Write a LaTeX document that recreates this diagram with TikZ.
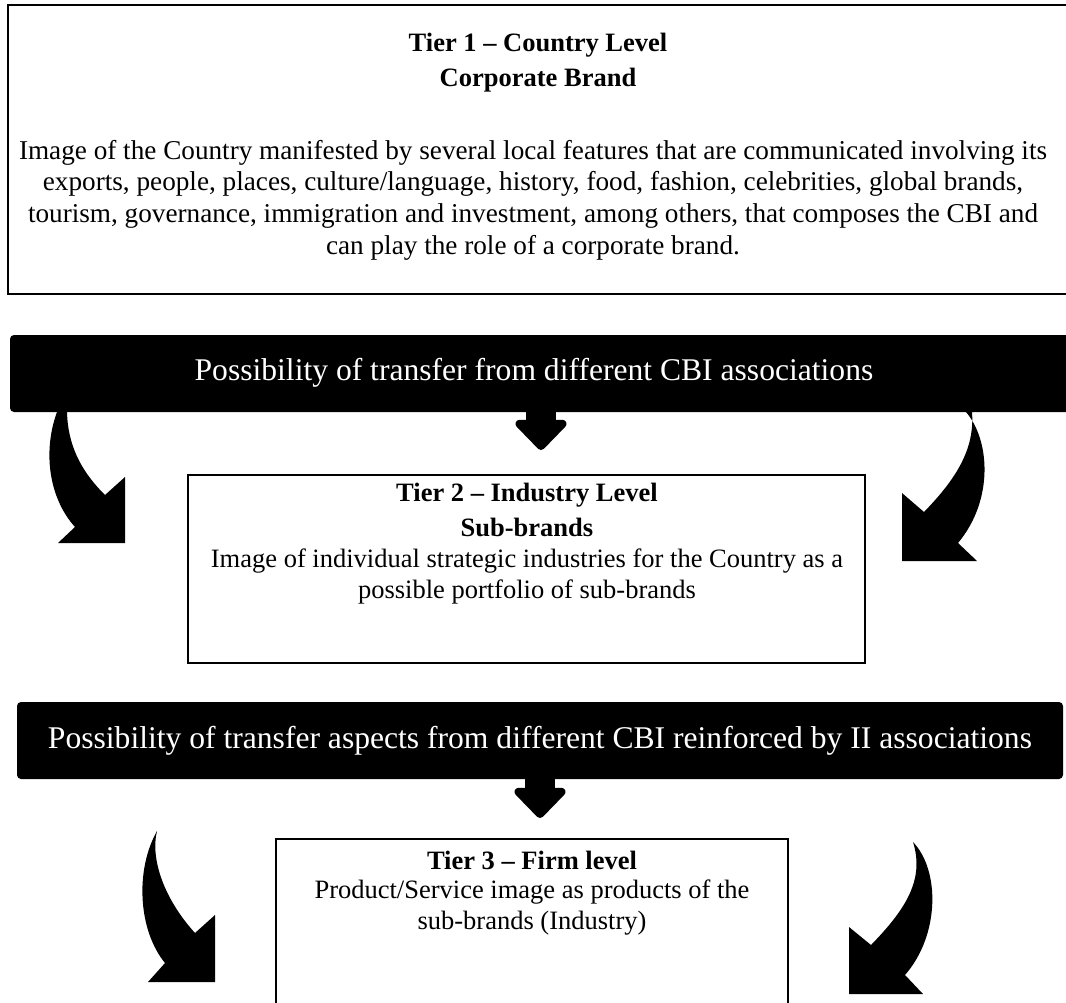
\documentclass[tikz,border=0pt]{standalone}
\usepackage{fontspec}
\setmainfont{Liberation Serif}
\usetikzlibrary{arrows.meta}
\begin{document}
\begin{tikzpicture}[x=1pt,y=-1pt,
  txt/.style={align=center, inner sep=0pt, font=\fontsize{26.5}{31}\selectfont},
  head/.style={inner sep=0pt, font=\fontsize{26.5}{30}\selectfont\bfseries},
  bantxt/.style={inner sep=0pt, text=white, font=\fontsize{31.6}{36}\selectfont},
  banner/.style={bantxt, fill=black, rounded corners=4pt},
  tierbox/.style={draw, line width=1.2pt},
  midarrow/.style={line width=30pt, -{Triangle[width=60pt,length=32pt,round]}}]
\useasboundingbox (0,0) rectangle (1066,1002);
\clip (0,0) rectangle (1066,1002);

% tier 1
\draw[line width=1.6pt] (8,5) rectangle (1090,294);
\node[head] (t1) at (538,45) {Tier 1 -- Country Level};
\node[head] (cb) at (538,80) {Corporate Brand};
\node[txt, font=\fontsize{27.2}{31.6}\selectfont] (t1txt) at (533,200) {Image of the Country manifested by several local features that are communicated involving its\\
exports, people, places, culture/language, history, food, fashion, celebrities, global brands,\\
tourism, governance, immigration and investment, among others, that composes the CBI and\\
can play the role of a corporate brand.};

% first banner
\fill[rounded corners=4pt] (10,335) rectangle (1090,412);
\node[bantxt] (ban1) at (534,373) {Possibility of transfer from different CBI associations};
\coordinate (b1s) at (541,406);
\coordinate (tip1) at (541,450);
\draw[midarrow] (b1s) -- (tip1);

% curved arrows, level 1
\fill (57,412) .. controls (43,450) and (48,497) .. (75,527) -- (58,543) -- (125,543) -- (125,477)
  -- (105,495) .. controls (85,475) and (68,450) .. (67,412) -- cycle;
\fill (966,412) .. controls (990,440) and (994,500) .. (958,543) -- (977,561) -- (902,561) -- (902,493)
  -- (924,512) .. controls (955,480) and (975,450) .. (972,412) -- cycle;

% tier 2
\draw[tierbox] (188,475) rectangle (865,663);
\node[head] (t2) at (527,495) {Tier 2 -- Industry Level};
\node[head] (sb) at (527,527) {Sub-brands};
\node[txt] (t2txt) at (527,576) {Image of individual strategic industries for the Country as a\\
possible portfolio of sub-brands};

% second banner
\node[banner, minimum width=1046pt, minimum height=77pt] (ban2) at (540,740.5) {Possibility of transfer aspects from different CBI reinforced by II associations};
\coordinate (tip2) at (540,818);
\draw[midarrow] ([yshift=3pt]ban2.south) -- (tip2);

% curved arrows, level 2
\fill (157,831) .. controls (135,870) and (138,930) .. (165,963) -- (148,982) -- (215,982) -- (215,915)
  -- (195,933) .. controls (165,900) and (150,860) .. (157,831) -- cycle;
\fill (913,842) .. controls (940,870) and (940,935) .. (905,975) -- (923,994) -- (849,994) -- (849,927)
  -- (871,945) .. controls (905,910) and (925,880) .. (913,842) -- cycle;

% tier 3
\draw[tierbox] (276,839) rectangle (788,1010);
\node[head] (t3) at (532,860) {Tier 3 -- Firm level};
\node[txt] (t3txt) at (532,908) {Product/Service image as products of the\\
sub-brands (Industry)};
\end{tikzpicture}
\end{document}
